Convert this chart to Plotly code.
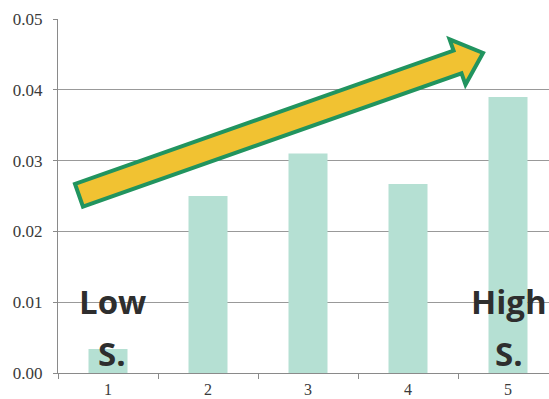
import math
import plotly.graph_objects as go

# Bar data
categories = ["1", "2", "3", "4", "5"]
values = [0.0034, 0.025, 0.031, 0.0267, 0.039]

# Y axis ticks
y_ticks = [0.0, 0.01, 0.02, 0.03, 0.04, 0.05]
y_tick_labels = ["0.00", "0.01", "0.02", "0.03", "0.04", "0.05"]

# Trend arrow (tail and tip in data coordinates: category index, value)
arrow_tail = (-0.29, 0.0251)
arrow_tip = (3.75, 0.0452)

# Text callouts: (category index, lines, horizontal nudge in px)
callouts = [(0, ["Low", "S."], 4), (4, ["High", "S."], 1)]
callout_y = [0.0101, 0.0027]

# Figure geometry
W, H = 549, 399
ML, MR, MT, MB = 58, 0, 19, 26
X_RANGE = [-0.5, 4.41]
Y_RANGE = [0.0, 0.05]
pw, ph = W - ML - MR, H - MT - MB
sx = pw / (X_RANGE[1] - X_RANGE[0])
sy = ph / (Y_RANGE[1] - Y_RANGE[0])

SERIF = "Liberation Serif, Times New Roman, Times, serif"
Y_TICK_FONT = dict(family=SERIF, size=17, color="#3a3a3a")
X_TICK_FONT = dict(family=SERIF, size=16, color="#3a3a3a")


def to_px(x, y):
    return ((x - X_RANGE[0]) * sx, -(y - Y_RANGE[0]) * sy)


def to_data(px, py):
    return (px / sx + X_RANGE[0], -py / sy + Y_RANGE[0])


def arrow_path(tail, tip, half_shaft=12.0, half_head=24.0, head_len=27.0):
    tx, ty = to_px(*tail)
    hx, hy = to_px(*tip)
    L = math.hypot(hx - tx, hy - ty)
    dx, dy = (hx - tx) / L, (hy - ty) / L
    nx, ny = -dy, dx
    bx, by = hx - dx * head_len, hy - dy * head_len
    pts = [
        (tx + nx * half_shaft, ty + ny * half_shaft),
        (bx + nx * half_shaft, by + ny * half_shaft),
        (bx + nx * half_head, by + ny * half_head),
        (hx, hy),
        (bx - nx * half_head, by - ny * half_head),
        (bx - nx * half_shaft, by - ny * half_shaft),
        (tx - nx * half_shaft, ty - ny * half_shaft),
    ]
    d = [to_data(px, py) for px, py in pts]
    return "M " + " L ".join(f"{x:.5f},{y:.6f}" for x, y in d) + " Z"


fig = go.Figure(
    go.Bar(
        x=categories,
        y=values,
        width=0.39,
        marker=dict(color="#b5e0d3", line=dict(width=0)),
        hoverinfo="skip",
    )
)

fig.add_shape(
    type="path",
    path=arrow_path(arrow_tail, arrow_tip),
    xref="x",
    yref="y",
    fillcolor="#f1c232",
    line=dict(color="#21945f", width=4),
    layer="above",
)

label_font = dict(family="Open Sans", size=33, color="#2e2e2e")
for idx, lines, nudge in callouts:
    for txt, yv in zip(lines, callout_y):
        fig.add_annotation(
            x=idx,
            y=yv,
            xref="x",
            yref="y",
            text=f"<b>{txt}</b>",
            showarrow=False,
            font=label_font,
            xshift=nudge,
            yanchor="middle",
        )

fig.update_layout(
    width=W,
    height=H,
    margin=dict(l=ML, r=MR, t=MT, b=MB, pad=0, autoexpand=False),
    paper_bgcolor="white",
    plot_bgcolor="white",
    showlegend=False,
    font=dict(family=SERIF, size=17, color="#3a3a3a"),
)

fig.update_xaxes(
    type="category",
    range=X_RANGE,
    automargin=False,
    showgrid=False,
    showline=True,
    linecolor="#8a8a8a",
    linewidth=1,
    ticks="outside",
    tickson="boundaries",
    ticklen=5,
    tickcolor="#8a8a8a",
    ticklabelstandoff=2,
    tickfont=X_TICK_FONT,
)

fig.update_yaxes(
    range=Y_RANGE,
    automargin=False,
    tickvals=y_ticks,
    ticktext=y_tick_labels,
    showgrid=True,
    gridcolor="#999999",
    gridwidth=1,
    showline=True,
    linecolor="#8a8a8a",
    linewidth=1,
    ticks="outside",
    ticklen=4,
    tickcolor="#8a8a8a",
    ticklabelstandoff=7,
    zeroline=False,
    tickfont=Y_TICK_FONT,
)

fig.write_html("out.html")
